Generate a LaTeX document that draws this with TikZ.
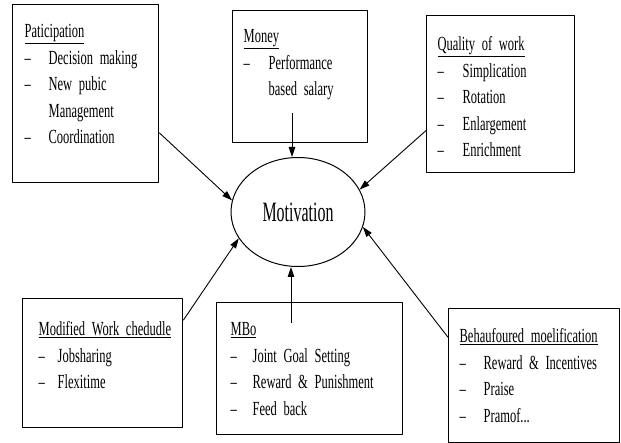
\documentclass[tikz,border=0pt]{standalone}
\usepackage{fontspec}
\setmainfont{Liberation Serif}[FakeStretch=0.625]
\newfontfamily\motfont{Liberation Serif}[FakeStretch=0.57]
\usetikzlibrary{arrows.meta,shapes.geometric}
\newcommand{\factorfont}{\fontsize{20}{26.5}\selectfont\fontdimen2\font=3.4pt\relax}

\begin{document}
\begin{tikzpicture}[x=1pt,y=-1pt,join=round,
    factor/.style={draw,line width=1.3pt,anchor=north west,inner sep=0pt,align=left,
        font=\factorfont},
    pull/.style={-{Triangle[length=10pt,width=6.5pt]},line width=0.9pt}] %Motivation with 6 factors
        \useasboundingbox (0,0) rectangle (621,443);
        \node[draw,ellipse,minimum width=134pt,minimum height=109pt,inner sep=0pt,line width=1pt,
            font=\motfont\fontsize{28}{30}\selectfont] (mot) at (298,212) {Motivation};
        \node[factor,text width=146pt,text height=33pt,text depth=145pt] (part) at (12,4) {%
            \begin{tabular}[t]{@{\hspace{12pt}}p{24pt}@{}l@{}}
            \multicolumn{2}{@{\hspace{12pt}}l}{\underline{Paticipation}}\\
            -- & Decision making\\
            -- & New pubic\\
               & Management\\
            -- & Coordination
            \end{tabular}};
        \node[factor,text width=135pt,text height=32pt,text depth=100pt] (money) at (232,10) {%
            \begin{tabular}[t]{@{\hspace{11pt}}p{25pt}@{}l@{}}
            \multicolumn{2}{@{\hspace{11pt}}l}{\underline{Money}}\\
            -- & Performance\\
               & based salary
            \end{tabular}};
        \node[factor,text width=148pt,text height=35pt,text depth=122pt] (qual) at (426,15) {%
            \begin{tabular}[t]{@{\hspace{11pt}}p{25pt}@{}l@{}}
            \multicolumn{2}{@{\hspace{11pt}}l}{\underline{Quality of work}}\\
            -- & Simplication\\
            -- & Rotation\\
            -- & Enlargement\\
            -- & Enrichment
            \end{tabular}};
        \node[factor,text width=160pt,text height=37pt,text depth=92pt] (sched) at (22,298) {%
            \begin{tabular}[t]{@{\hspace{16pt}}p{19pt}@{}l@{}}
            \multicolumn{2}{@{\hspace{16pt}}l}{\underline{Modified Work chedudle}}\\
            -- & Jobsharing\\
            -- & Flexitime
            \end{tabular}};
        \node[factor,text width=186pt,text height=33pt,text depth=99pt] (mbo) at (216,302) {%
            \begin{tabular}[t]{@{\hspace{14pt}}p{22pt}@{}l@{}}
            \multicolumn{2}{@{\hspace{14pt}}l}{\underline{MBo}}\\
            -- & Joint Goal Setting\\
            -- & Reward \& Punishment\\
            -- & Feed back
            \end{tabular}};
        \node[factor,text width=171pt,text height=34pt,text depth=100pt] (behav) at (448,308) {%
            \begin{tabular}[t]{@{\hspace{11pt}}p{24pt}@{}l@{}}
            \multicolumn{2}{@{\hspace{11pt}}l}{\underline{Behaufoured moelification}}\\
            -- & Reward \& Incentives\\
            -- & Praise\\
            -- & Pramof...
            \end{tabular}};
        \coordinate (m0) at (292,113);
        \coordinate (b0) at (291,323);
        \draw[pull] (part.-28.7) -- (mot.170.3);
        \draw[pull] (m0) -- (m0 |- mot.north);
        \draw[pull] (qual.206.3) -- (mot.20.4);
        \draw[pull] (sched.28) -- (mot.204.5);
        \draw[pull] (b0) -- (b0 |- mot.south);
        \draw[pull] (behav.156) -- (mot.-13.4);
    \end{tikzpicture}
\end{document}
